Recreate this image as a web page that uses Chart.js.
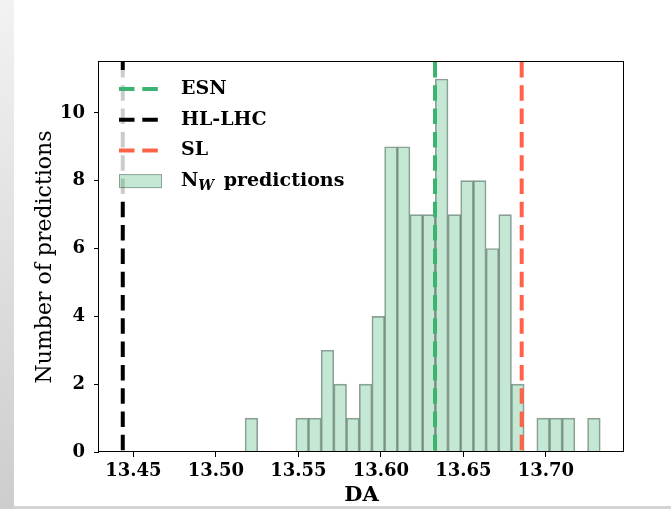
<!DOCTYPE html>
<html>
<head>
<meta charset="utf-8">
<script src="https://cdn.jsdelivr.net/npm/chart.js@4.4.1/dist/chart.umd.min.js"></script>
<style>
  html, body { margin: 0; padding: 0; background: #fff; }
  #wrap { position: relative; width: 671px; height: 509px; overflow: hidden; }
  #side { position: absolute; left: 0; top: 0; width: 14px; height: 509px;
          background: linear-gradient(#f2f2f2, #cdcdcd); }
  #foot { position: absolute; left: 14px; right: 0; bottom: 0; height: 3px; background: #d4d4d4; }
  #graph-da { position: absolute; left: 0; top: 0; }
</style>
</head>
<body>
<div id="wrap">
  <div id="side"></div>
  <div id="foot"></div>
  <canvas id="graph-da" width="671" height="509"></canvas>
</div>
<script>
// histogram of N_W predictions
const binStart = 13.5177;
const binWidth = 0.007686;
const counts = [1, 0, 0, 0, 1, 1, 3, 2, 1, 2, 4, 9, 9, 7, 7, 11, 7, 8, 8, 6, 7, 2, 0, 1, 1, 1, 0, 1];

// reference values shown as vertical lines
const refNames = ['ESN', 'HL-LHC', 'SL'];
const refValues = [13.6328, 13.4436, 13.6853];
const refColors = ['#3cb371', '#000000', '#ff6347'];

const xTicks = [13.45, 13.50, 13.55, 13.60, 13.65, 13.70];
const yTicks = [0, 2, 4, 6, 8, 10];
const xMin = 13.4292, xMax = 13.7473;
const yMax = 11.5;

const barFill = 'rgba(60, 179, 113, 0.3)';
const barEdge = 'rgba(20, 40, 30, 0.45)';
const dash = [15.5, 7.8];

const histData = counts.map((c, i) => ({ x: binStart + (i + 0.5) * binWidth, y: c }));

const lineSets = refNames.map((name, i) => ({
  type: 'line',
  label: name,
  data: [{ x: refValues[i], y: yMax }, { x: refValues[i], y: 0 }],
  borderColor: refColors[i],
  borderWidth: 4,
  borderDash: dash,
  borderCapStyle: 'butt',
  pointRadius: 0,
  fill: false,
  order: 1
}));

// axes frame plus legend box drawn on top of the marks
const frameAndLegend = {
  id: 'frameAndLegend',
  afterDatasetsDraw(chart) {
    const ctx = chart.ctx;
    const a = chart.chartArea;
    ctx.save();
    ctx.strokeStyle = '#000';
    ctx.lineWidth = 1;
    ctx.strokeRect(a.left - 0.5, a.top - 0.5, a.right - a.left, a.bottom - a.top);

    // legend
    const bx = a.left + 10, by = a.top + 8, bw = 247, bh = 126, r = 4;
    ctx.fillStyle = 'rgba(255,255,255,0.8)';
    ctx.beginPath();
    ctx.roundRect(bx, by, bw, bh, r);
    ctx.fill();

    const hx = a.left + 20, hw = 39, tx = a.left + 82;
    const rowY = i => a.top + 27 + i * 30.7;
    ctx.font = 'bold 19px "DejaVu Serif"';
    ctx.textBaseline = 'middle';
    ctx.textAlign = 'left';
    refNames.forEach((name, i) => {
      const y = rowY(i);
      ctx.strokeStyle = refColors[i];
      ctx.lineWidth = 4;
      ctx.setLineDash(dash);
      ctx.beginPath();
      ctx.moveTo(hx, y);
      ctx.lineTo(hx + hw, y);
      ctx.stroke();
      ctx.setLineDash([]);
      ctx.fillStyle = '#000';
      ctx.fillText(name, tx, y);
    });
    const y3 = rowY(3);
    ctx.fillStyle = barFill;
    ctx.fillRect(hx, y3 - 7, 43, 14);
    ctx.strokeStyle = 'rgba(0,0,0,0.3)';
    ctx.lineWidth = 1;
    ctx.strokeRect(hx + 0.5, y3 - 6.5, 42, 13);
    ctx.fillStyle = '#000';
    ctx.fillText('N', tx, y3);
    let w = ctx.measureText('N').width;
    ctx.font = 'italic bold 14px "DejaVu Serif"';
    ctx.fillText('W', tx + w, y3 + 5);
    w += ctx.measureText('W').width + 3;
    ctx.font = 'bold 19px "DejaVu Serif"';
    ctx.fillText(' predictions', tx + w, y3);
    ctx.restore();
  }
};

Chart.defaults.font.family = '"DejaVu Serif"';
Chart.defaults.color = '#000';

new Chart(document.getElementById('graph-da'), {
  type: 'bar',
  data: {
    datasets: [
      ...lineSets,
      {
        type: 'bar',
        label: 'N_W predictions',
        data: histData,
        backgroundColor: barFill,
        borderColor: barEdge,
        borderWidth: 1,
        borderSkipped: 'start',
        barPercentage: 1,
        categoryPercentage: 1,
        order: 2
      }
    ]
  },
  options: {
    responsive: false,
    animation: false,
    events: [],
    layout: { padding: { left: 0, top: 62, right: 47, bottom: 0 } },
    scales: {
      x: {
        type: 'linear',
        min: xMin,
        max: xMax,
        offset: false,
        afterBuildTicks: s => { s.ticks = xTicks.map(v => ({ value: v })); },
        afterFit: s => { s.height = 57; },
        grid: { offset: false, drawOnChartArea: false, drawTicks: true, tickLength: 5, color: '#000' },
        border: { display: false },
        ticks: {
          padding: 4,
          maxRotation: 0,
          autoSkip: false,
          font: { size: 18, weight: 'bold' },
          callback: v => v.toFixed(2)
        },
        title: {
          display: true,
          text: 'DA',
          font: { size: 21, weight: 'bold' },
          padding: { top: 0, bottom: 1 }
        }
      },
      y: {
        min: 0,
        max: yMax,
        afterBuildTicks: s => { s.ticks = yTicks.map(v => ({ value: v })); },
        afterFit: s => { s.width = 99; },
        grid: { drawOnChartArea: false, drawTicks: true, tickLength: 5, color: '#000' },
        border: { display: false },
        ticks: {
          padding: 9,
          font: { size: 18, weight: 'bold' }
        },
        title: {
          display: true,
          text: 'Number of predictions',
          font: { size: 22 },
          padding: { top: 32, bottom: 0 }
        }
      }
    },
    plugins: {
      legend: { display: false },
      tooltip: { enabled: false }
    }
  },
  plugins: [frameAndLegend]
});
</script>
</body>
</html>
